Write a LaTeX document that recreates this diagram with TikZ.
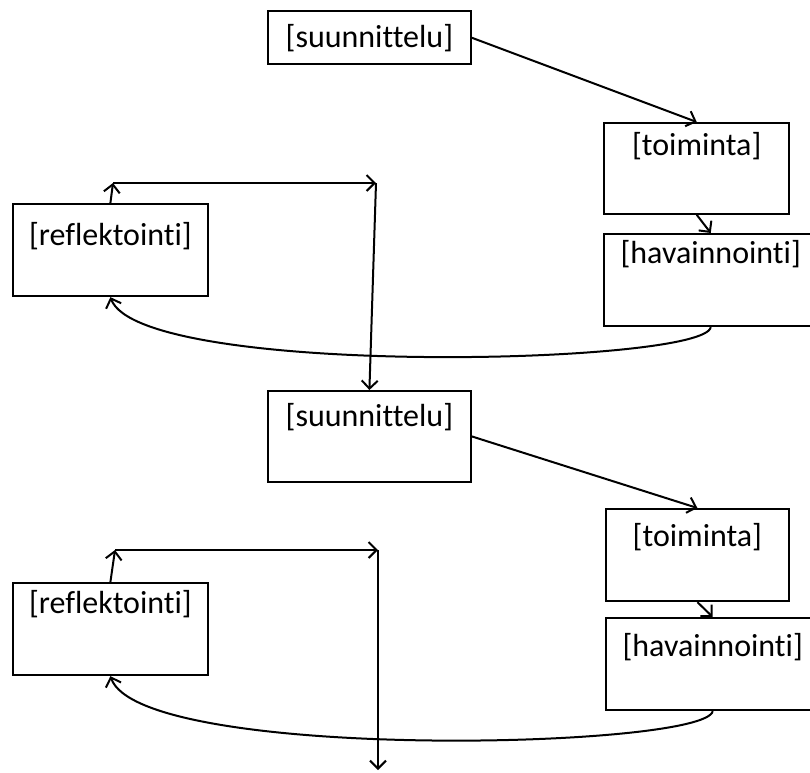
\documentclass[tikz,border=0pt]{standalone}
\usepackage{fontspec}
\setmainfont{Carlito}[Ligatures=NoCommon]
\usepackage{tikz}
\usetikzlibrary{arrows.meta, positioning}

\tikzset{
    pvbox/.style={draw, line width=1.6pt, anchor=north west, inner sep=0pt},
    pvline/.style={line width=1.5pt, ->, >={Straight Barb[length=6pt,width=12pt]}}
}

\begin{document}
\begin{tikzpicture}[x=0.75pt, y=-0.75pt, font=\fontsize{24}{29}\selectfont]
        \clip (0,0) rectangle (810,772);

        % first cycle
        \node[pvbox, minimum width=152pt, minimum height=40pt] (suun1) at (267,10) {[suunnittelu]};
        \node[pvbox, minimum width=139pt, minimum height=68pt,
              label={[anchor=north, inner sep=0pt, yshift=-7.5pt]north:{[toiminta]}}] (toim1) at (603,122) {};
        \node[pvbox, minimum width=160pt, minimum height=69pt,
              label={[anchor=north, inner sep=0pt, yshift=-5.25pt]north:{[havainnointi]}}] (hav1) at (603,233) {};
        \node[pvbox, minimum width=146pt, minimum height=69pt,
              label={[anchor=north, inner sep=0pt, yshift=-14.25pt]north:{[reflektointi]}}] (refl1) at (12,203) {};

        \coordinate (vasen1) at (113,183);
        \coordinate (oikea1) at (376,183);

        \draw[pvline] (suun1.east) -- (toim1.north);
        \draw[pvline] (toim1.south) -- (hav1.north);
        \draw[pvline] (hav1.south) .. controls (705,365) and (140,378) .. (refl1.south);
        \draw[pvline] (refl1.north) -- (vasen1);
        \draw[pvline] (vasen1) -- (oikea1);

        % second cycle
        \node[pvbox, minimum width=152pt, minimum height=68pt,
              label={[anchor=north, inner sep=0pt, yshift=-9.75pt]north:{[suunnittelu]}}] (suun2) at (267,390) {};
        \node[pvbox, minimum width=137pt, minimum height=69pt,
              label={[anchor=north, inner sep=0pt, yshift=-11.25pt]north:{[toiminta]}}] (toim2) at (605,508) {};
        \node[pvbox, minimum width=160pt, minimum height=69pt,
              label={[anchor=north, inner sep=0pt, yshift=-12pt]north:{[havainnointi]}}] (hav2) at (605,617) {};
        \node[pvbox, minimum width=146pt, minimum height=69pt,
              label={[anchor=north, inner sep=0pt, yshift=-6pt]north:{[reflektointi]}}] (refl2) at (12,582) {};

        \coordinate (vasen2) at (115,550);
        \coordinate (oikea2) at (378,550);
        \coordinate (loppu) at (378,770);

        \draw[pvline] (oikea1) -- (suun2.north);
        \draw[pvline] (suun2.east) -- (toim2.north);
        \draw[pvline] (toim2.south) -- (hav2.north);
        \draw[pvline] (hav2.south) .. controls (705,749) and (140,762) .. (refl2.south);
        \draw[pvline] (refl2.north) -- (vasen2);
        \draw[pvline] (vasen2) -- (oikea2);
        \draw[pvline] (oikea2) -- (loppu);
    \end{tikzpicture}
\end{document}
